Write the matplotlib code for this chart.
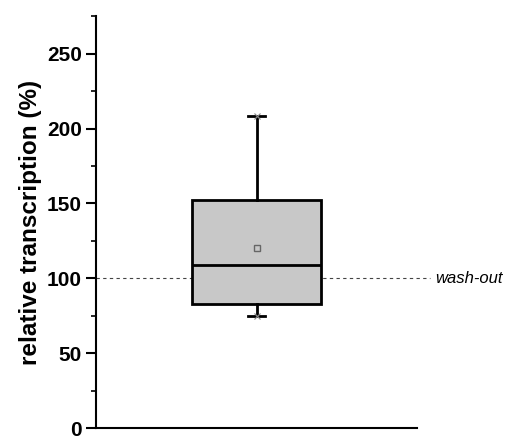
import matplotlib
matplotlib.use("Agg")
import matplotlib.pyplot as plt

plt.rcParams['font.family'] = ['Liberation Sans', 'DejaVu Sans']

# data
labels = ["wash-out"]
q1 = [83]
median = [109]
q3 = [152]
whislo = [75]
whishi = [208.5]
mean = [120]
minimum = [75]
maximum = [208.5]
reference = 100
yticks = [0, 50, 100, 150, 200, 250]

fig = plt.figure(figsize=(5.05, 4.36), dpi=100)
ax = fig.add_axes([0.19, 0.018, 0.636, 0.945])

stats = [dict(q1=q1[0], med=median[0], q3=q3[0], whislo=whislo[0],
              whishi=whishi[0], mean=mean[0], fliers=[], label="")]
ax.bxp(stats, positions=[1], widths=0.4, patch_artist=True, showmeans=True,
       boxprops=dict(facecolor='#c8c8c8', edgecolor='black', linewidth=2),
       medianprops=dict(color='black', linewidth=2),
       whiskerprops=dict(color='black', linewidth=2),
       capprops=dict(color='black', linewidth=2),
       capwidths=0.055,
       meanprops=dict(marker='s', markerfacecolor='none', markeredgecolor='#666666',
                      markersize=4.5, markeredgewidth=1))
ax.plot([1, 1], [minimum[0], maximum[0]], linestyle='none', marker='x',
        color='#888888', markersize=5, markeredgewidth=0.8, zorder=5)

ax.plot([0.5, 1.54], [reference, reference], linestyle=(0, (3, 3)), color='#444444',
        linewidth=0.8, clip_on=False, zorder=1)
ax.text(1.555, reference, labels[0], style='italic', fontsize=12, va='center', ha='left')

ax.set_xlim(0.5, 1.5)
ax.set_ylim(0, 275)
ax.set_yticks(yticks)
ax.set_yticks([25, 75, 125, 175, 225, 275], minor=True)
ax.set_xticks([])
for s in ['top', 'right']:
    ax.spines[s].set_visible(False)
ax.spines['left'].set_linewidth(1.5)
ax.spines['bottom'].set_linewidth(1.5)
ax.tick_params(axis='y', which='major', length=7, width=1.5, labelsize=15, pad=3)
ax.tick_params(axis='y', which='minor', length=3.5, width=1.2)
for t in ax.get_yticklabels():
    t.set_fontweight('bold')
ax.set_ylabel("relative transcription (%)", fontsize=17.5, fontweight='bold', labelpad=4)

fig.savefig("out.png", dpi=100)
